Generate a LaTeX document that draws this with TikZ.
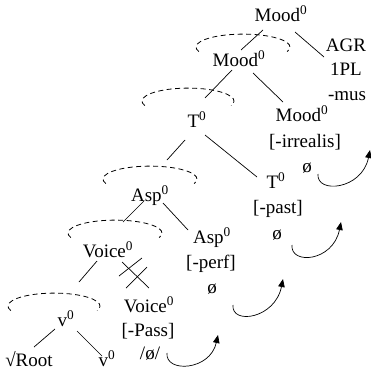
\documentclass[tikz,border=0pt]{standalone}
\usepackage{fontspec}
\setmainfont{Liberation Serif}
\usetikzlibrary{arrows.meta}
\newcommand\hd[1]{#1\textsuperscript{0}}
\begin{document}
\begin{tikzpicture}[x=1pt,y=-1pt,
  lbl/.style={anchor=base, inner sep=0pt, font=\fontsize{19}{22}\selectfont},
  branch/.style={line width=0.7pt},
  hull/.style={dash pattern=on 5pt off 3.5pt, line width=0.8pt},
  move/.style={line width=0.7pt, -{Triangle[length=8pt,width=6.5pt]}}]
\useasboundingbox (0,0) rectangle (371,372);

% heads and features
\node[lbl] (m1) at (281,21) {\hd{Mood}};
\node[lbl] (agr) at (346,51) {AGR};
\node[lbl] (pl) at (346,75) {1PL};
\node[lbl] (mus) at (347,100) {-mus};
\node[lbl] (m2) at (239,66) {\hd{Mood}};
\node[lbl] (m3) at (302,121) {\hd{Mood}};
\node[lbl] (irr) at (305,147) {[-irrealis]};
\node[lbl] (m3z) at (307,172) {ø};
\node[lbl] (t1) at (197,127) {\hd{T}};
\node[lbl] (t2) at (276,188) {\hd{T}};
\node[lbl] (past) at (278,213) {[-past]};
\node[lbl] (t2z) at (277,239) {ø};
\node[lbl] (a1) at (150,201) {\hd{Asp}};
\node[lbl] (a2) at (212,243) {\hd{Asp}};
\node[lbl] (perf) at (211,268) {[-perf]};
\node[lbl] (a2z) at (212,293) {ø};
\node[lbl] (vc1) at (108,257) {\hd{Voice}};
\node[lbl] (vc2) at (149,312) {\hd{Voice}};
\node[lbl] (pass) at (148,336) {[-Pass]};
\node[lbl] (vc2z) at (150,359) {/ø/};
\node[lbl] (v1) at (66,326) {\hd{v}};
\node[lbl] (root) at (29,366) {√Root};
\node[lbl] (v2) at (107,366) {\hd{v}};

% dashed hulls over the complex heads
\foreach \cx/\cy/\rx [count=\i] in {243/56/47, 188/110/46, 150/188/47, 115/242/47, 54/315/46}
  \draw[hull] (\cx,\cy) ++(160:\rx pt and 13pt) coordinate (hull\i)
    arc[start angle=160, end angle=380, x radius=\rx, y radius=13];

% branches
\draw[branch] (263,30) coordinate (m1a) -- (241,50) coordinate (m2top);
\draw[branch] (295,32) coordinate (m1b) -- (324,57) coordinate (agrL);
\draw[branch] (232,70) coordinate (m2a) -- (205,98) coordinate (t1top);
\draw[branch] (253,73) coordinate (m2b) -- (283,102) coordinate (m3top);
\draw[branch] (185,140) coordinate (t1a) -- (167,160) coordinate (a1top);
\draw[branch] (205,135) coordinate (t1b) -- (257,177) coordinate (t2top);
\draw[branch] (144,201) coordinate (a1a) -- (123,222) coordinate (vc1top);
\draw[branch] (163,203) coordinate (a1b) -- (188,230) coordinate (a2top);
\draw[branch] (97,261) coordinate (vc1a) -- (79,282) coordinate (v1top);
\draw[branch] (122,262) coordinate (vc1b) -- (149,288) coordinate (vc2top);
\draw[branch] (55,329) coordinate (v1a) -- (34,347) coordinate (rootTop);
\draw[branch] (77,331) coordinate (v1b) -- (102,356) coordinate (v2top);

% deleted branch
\draw[branch] (119,276) -- (142,258);
\draw[branch] (126,288) -- (147,267);

% head movement
\draw[move] (318,174) coordinate (mv1) .. controls +(-2,20) and +(-8,40) .. (370,150) coordinate (mv1t);
\draw[move] (292,245) coordinate (mv2) .. controls +(-2,20) and +(-8,40) .. (341,222) coordinate (mv2t);
\draw[move] (233,305) coordinate (mv3) .. controls +(-2,20) and +(-8,40) .. (283,279) coordinate (mv3t);
\draw[move] (167,353) coordinate (mv4) .. controls +(-2,20) and +(-8,36) .. (218,335) coordinate (mv4t);
\end{tikzpicture}
\end{document}
